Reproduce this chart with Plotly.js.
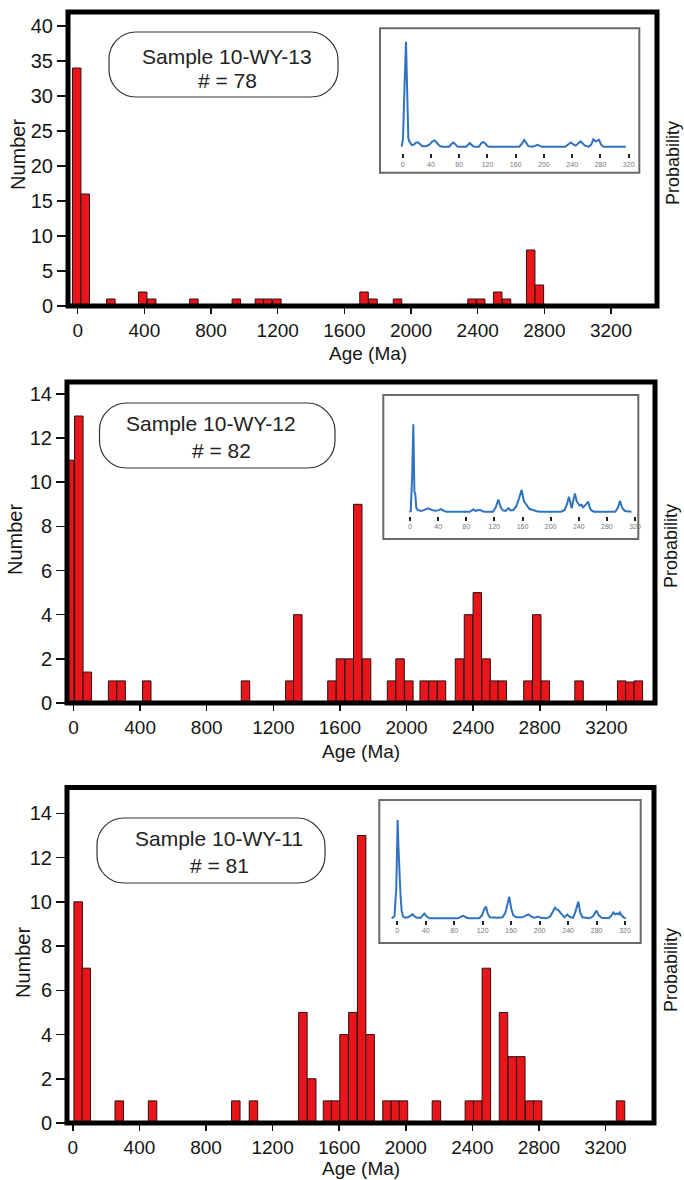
<!DOCTYPE html>
<html>
<head>
<meta charset="utf-8">
<script src="https://cdn.plot.ly/plotly-3.0.1.min.js"></script>
<style>html,body{margin:0;padding:0;background:#fff;}#chart{width:684px;height:1180px;}</style>
</head>
<body>
<div id="chart"></div>
<script>
// ---------------- DATA ----------------
// Panel 1: Sample 10-WY-13 (age bin centres in Ma, counts)
const ages13 = [-6, 45, 199, 390, 444, 697, 952, 1090, 1140, 1195, 1718, 1772, 1919, 2366, 2418, 2520, 2573, 2718, 2770];
const counts13 = [34, 16, 1, 2, 1, 1, 1, 1, 1, 1, 2, 1, 1, 1, 1, 2, 1, 8, 3];
// Panel 2: Sample 10-WY-12
const ages12 = [-23, 32, 83, 235, 286, 440, 1033, 1299, 1347, 1552, 1603, 1656, 1707, 1760, 1910, 1961, 2014, 2106, 2159, 2210, 2318, 2372, 2425, 2478, 2526, 2575, 2729, 2782, 2833, 3036, 3292, 3341, 3392];
const counts12 = [11, 13, 1.4, 1, 1, 1, 1, 1, 4, 1, 2, 2, 9, 2, 1, 2, 1, 1, 1, 1, 2, 4, 5, 2, 1, 1, 1, 4, 1, 1, 1, 0.95, 1];
// Panel 3: Sample 10-WY-11
const ages11 = [32, 81, 279, 479, 979, 1085, 1382, 1435, 1530, 1578, 1629, 1682, 1735, 1786, 1887, 1938, 1986, 2184, 2382, 2433, 2484, 2587, 2640, 2691, 2744, 2792, 3290];
const counts11 = [10, 7, 1, 1, 1, 1, 5, 2, 1, 1, 4, 5, 13, 4, 1, 1, 1, 1, 1, 1, 7, 5, 3, 3, 1, 1, 1];

const ageTicks = [0, 400, 800, 1200, 1600, 2000, 2400, 2800, 3200];
const ageTickText = ["0", "400", "800", "1200", "1600", "2000", "2400", "2800", "3200"];
const numTicks13 = [0, 5, 10, 15, 20, 25, 30, 35, 40];
const numTicks12 = [0, 2, 4, 6, 8, 10, 12, 14];
const numTicks11 = [0, 2, 4, 6, 8, 10, 12, 14];

// Inset probability curves (x in inset units, y in % of main peak)
const probX13 = [-1.4, 0.5, 2.5, 4.7, 6.5, 8, 9.5, 11, 13, 16, 19, 22, 25, 28, 33, 38, 42, 45, 48, 52, 56, 66, 69, 72, 75, 78, 90, 93, 95, 98, 101, 108, 111, 114, 117, 120, 123, 165, 169, 172, 175, 178, 184, 188, 191, 194, 197, 230, 235, 238, 242, 245, 249, 252, 255, 258, 263, 267, 270, 273, 275, 278, 281, 284, 316];
const probY13 = [0, 8, 55, 100, 50, 8, 5, 3, 1.5, 2, 4, 4, 2, 0.5, 0.5, 2, 5, 6, 4, 1, 0, 0, 2.5, 4, 2, 0, 0, 2.5, 3.5, 1.5, 0, 0, 3, 4.5, 3, 0.5, 0, 0, 3, 6.5, 3, 0.5, 0, 1, 1.8, 0.8, 0, 0, 3, 4, 2, 1, 3.5, 5, 3, 1, 0, 2, 7, 5, 5.5, 6.5, 2, 0, 0];

const probX12 = [-1, 1, 3, 4.7, 5.5, 6.2, 7.5, 9, 11, 14, 17, 21, 26, 31, 36, 40, 44, 48, 52, 85, 88, 90, 93, 96, 99.5, 103, 106, 118, 122, 125.6, 129, 132, 136, 140, 143, 147, 151, 155, 158.8, 162, 166, 170, 175, 180, 185, 215, 220, 223, 226, 228, 230, 232, 234.6, 237, 239, 241, 244, 246, 248.8, 251, 253.5, 256, 258, 262, 292, 296, 298.6, 302, 305.7, 315];
const probY12 = [0, 0.5, 40, 100, 60, 23, 20, 4, 2, 1, 1, 2.5, 3.8, 2, 1, 1.5, 3, 1, 0, 0, 1.5, 2.7, 1, 1.5, 2.3, 0.5, 0, 0, 5, 14, 5, 1.5, 1, 4, 1.5, 2, 6, 15, 25, 12, 7, 3, 2, 0.5, 0, 0, 2, 8, 17, 10, 4, 12, 21, 12, 9, 7, 8, 5, 7, 9, 11.5, 4, 1.5, 0, 0, 5, 12.6, 4, 0.8, 0];

const probX11 = [-8, -4, -1.5, 0.5, 1.5, 2, 3.5, 4.5, 6, 8, 11, 15, 19, 21.5, 24, 28, 33, 36, 38, 41, 45, 85, 89, 92.7, 96, 100, 115, 119, 122, 124.6, 127, 130, 140, 148, 152, 155, 157.4, 160, 163, 167, 175, 180, 184, 188, 192, 195, 198, 201, 210, 215, 218, 221.6, 224, 226, 230, 235, 239, 242, 247, 250, 254.4, 257, 260, 270, 275, 278, 280, 283, 287, 297, 300, 303.6, 306, 308, 311, 312.8, 315, 318, 321];
const probY11 = [0, 2, 30, 100, 75, 58, 40, 24, 8, 2, 0.5, 1, 3, 4, 2, 0.5, 0.5, 3, 4.7, 2, 0, 0, 1.5, 2.7, 1, 0, 0, 3, 9, 12, 5, 1, 0.5, 1, 6, 15, 22, 10, 3, 1, 1, 2.5, 4, 2, 0.5, 1, 1.7, 0.5, 0, 2, 6, 10.8, 9, 8.5, 5, 1, 4, 1.5, 0.5, 6, 17, 6, 1, 0, 2, 6, 7.8, 3, 0.5, 0, 2, 6, 4, 5, 4, 6, 3, 1, 0];

const insetTicks = [0, 40, 80, 120, 160, 200, 240, 280, 320];
const insetTickText = ["0", "40", "80", "120", "160", "200", "240", "280", "320"];

const sampleNames = ["Sample 10-WY-13", "Sample 10-WY-12", "Sample 10-WY-11"];
const sampleCounts = ["# = 78", "# = 82", "# = 81"];

// ---------------- LAYOUT GEOMETRY ----------------
const W = 684, H = 1180;
const X = px => px / W;
const Y = py => 1 - py / H;
const FONT = "Liberation Sans, Arial, Helvetica, sans-serif";
const RED = "#e8161b";
const BLUE = "#2f72c2";

const frames = [
  {l: 68, r: 657, t: 12, b: 306, xr: [-58.2, 3475.8], yr: [0, 42]},
  {l: 67, r: 655, t: 382, b: 703, xr: [-39, 3492], yr: [0, 14.54]},
  {l: 67, r: 654, t: 787.5, b: 1123, xr: [-35, 3491], yr: [0, 15.17]}
];
const insets = [
  {l: 380, r: 639.3, t: 28.3, b: 172.7, db: 153.3, xr: [-32.1, 335], yr: [-6.29, 112.75]},
  {l: 383.3, r: 638.3, t: 395, b: 539, db: 516, xr: [-38, 324.7], yr: [-4.9, 133.5]},
  {l: 379.3, r: 640.7, t: 800, b: 943, db: 920, xr: [-25.3, 342], yr: [-1.73, 120.4]}
];
const boxes = [
  {l: 109, r: 338, t: 32, b: 97, cx1: 227, y1: 57, cx2: 227, y2: 80},
  {l: 99.5, r: 335, t: 403, b: 468, cx1: 211, y1: 423, cx2: 221, y2: 450},
  {l: 97, r: 325, t: 818, b: 883, cx1: 219, y1: 839, cx2: 219, y2: 865}
];
const titlesPos = [
  {numX: 18, numY: 155, ageX: 368, ageY: 353, probX: 673, probY: 163},
  {numX: 15, numY: 540, ageX: 361, ageY: 752, probX: 671, probY: 546},
  {numX: 23, numY: 963, ageX: 361, ageY: 1168, probX: 671, probY: 970}
];

const agesAll = [ages13, ages12, ages11];
const countsAll = [counts13, counts12, counts11];
const numTicksAll = [numTicks13, numTicks12, numTicks11];
const probXAll = [probX13, probX12, probX11];
const probYAll = [probY13, probY12, probY11];

const data = [];
const layout = {
  width: W, height: H, autosize: false,
  margin: {l: 0, r: 0, t: 0, b: 0},
  paper_bgcolor: "#fff", plot_bgcolor: "rgba(0,0,0,0)",
  showlegend: false,
  font: {family: FONT, color: "#111"},
  shapes: [], annotations: []
};

// rounded rectangle with cubic corners (pixel radius r)
function roundRectPath(b, r) {
  const rx = r / W, ry = r / H, c = 0.45;
  const l = X(b.l), ri = X(b.r), t = Y(b.t), bo = Y(b.b);
  return `M ${l + rx} ${t} L ${ri - rx} ${t} ` +
         `C ${ri - rx * c} ${t} ${ri} ${t - ry * (1 - c)} ${ri} ${t - ry} ` +
         `L ${ri} ${bo + ry} ` +
         `C ${ri} ${bo + ry * c} ${ri - rx * c} ${bo} ${ri - rx} ${bo} ` +
         `L ${l + rx} ${bo} ` +
         `C ${l + rx * c} ${bo} ${l} ${bo + ry * c} ${l} ${bo + ry} ` +
         `L ${l} ${t - ry} ` +
         `C ${l} ${t - ry * c} ${l + rx * c} ${t} ${l + rx} ${t} Z`;
}

for (let i = 0; i < 3; i++) {
  const f = frames[i];
  const xa = "xaxis" + (i === 0 ? "" : (i + 1));
  const ya = "yaxis" + (i === 0 ? "" : (i + 1));
  const xs = "x" + (i === 0 ? "" : (i + 1));
  const ys = "y" + (i === 0 ? "" : (i + 1));
  data.push({
    type: "bar", x: agesAll[i], y: countsAll[i], width: 51,
    xaxis: xs, yaxis: ys,
    marker: {color: RED, line: {color: "#2a1010", width: 1}},
    hoverinfo: "skip"
  });
  layout[xa] = {
    domain: [X(f.l), X(f.r)], range: f.xr, anchor: ys,
    tickvals: ageTicks, ticktext: ageTickText,
    ticks: "outside", ticklen: 7, tickwidth: 1.5, tickcolor: "#111",
    showgrid: false, zeroline: false, showline: false,
    tickfont: {size: 19, family: FONT, color: "#151515"}, fixedrange: true
  };
  layout[ya] = {
    domain: [Y(f.b), Y(f.t)], range: f.yr, anchor: xs,
    tickvals: numTicksAll[i],
    ticks: "outside", ticklen: 10, tickwidth: 1.5, tickcolor: "#111",
    showgrid: false, zeroline: false, showline: false,
    tickfont: {size: 20, family: FONT, color: "#151515"}, fixedrange: true
  };
  layout.shapes.push({
    type: "rect", xref: "paper", yref: "paper",
    x0: X(f.l), x1: X(f.r), y0: Y(f.b), y1: Y(f.t),
    line: {color: "#000", width: 5}, layer: "above"
  });

  const s = insets[i];
  const k = i + 4;
  data.push({
    type: "scatter", mode: "lines", x: probXAll[i], y: probYAll[i],
    xaxis: "x" + k, yaxis: "y" + k,
    line: {color: BLUE, width: 2}, hoverinfo: "skip"
  });
  layout["xaxis" + k] = {
    domain: [X(s.l), X(s.r)], range: s.xr, anchor: "y" + k,
    tickvals: insetTicks, ticktext: insetTickText,
    ticks: "outside", ticklen: 4, tickwidth: 2, tickcolor: "#222",
    showgrid: false, zeroline: false, showline: false,
    tickfont: {size: 7, family: FONT, color: "#777"}, fixedrange: true
  };
  layout["yaxis" + k] = {
    domain: [Y(s.db), Y(s.t)], range: s.yr, anchor: "x" + k,
    showticklabels: false, ticks: "", showgrid: false, zeroline: false, showline: false,
    fixedrange: true
  };
  layout.shapes.push({
    type: "rect", xref: "paper", yref: "paper",
    x0: X(s.l), x1: X(s.r), y0: Y(s.b), y1: Y(s.t),
    line: {color: "#6a6a6a", width: 2}, layer: "above"
  });

  const b = boxes[i];
  layout.shapes.push({
    type: "path", xref: "paper", yref: "paper",
    path: roundRectPath(b, 27),
    line: {color: "#333", width: 1.2}, layer: "above"
  });
  layout.annotations.push({
    xref: "paper", yref: "paper", x: X(b.cx1), y: Y(b.y1),
    text: sampleNames[i], showarrow: false, xanchor: "center", yanchor: "middle",
    font: {size: 21, family: FONT, color: "#222"}
  });
  layout.annotations.push({
    xref: "paper", yref: "paper", x: X(b.cx2), y: Y(b.y2),
    text: sampleCounts[i], showarrow: false, xanchor: "center", yanchor: "middle",
    font: {size: 21, family: FONT, color: "#222"}
  });

  const tp = titlesPos[i];
  layout.annotations.push({
    xref: "paper", yref: "paper", x: X(tp.numX), y: Y(tp.numY),
    text: "Number", textangle: -90, showarrow: false, xanchor: "center", yanchor: "middle",
    font: {size: 20, family: FONT, color: "#151515"}
  });
  layout.annotations.push({
    xref: "paper", yref: "paper", x: X(tp.ageX), y: Y(tp.ageY),
    text: "Age (Ma)", showarrow: false, xanchor: "center", yanchor: "middle",
    font: {size: 19, family: FONT, color: "#151515"}
  });
  layout.annotations.push({
    xref: "paper", yref: "paper", x: X(tp.probX), y: Y(tp.probY),
    text: "Probability", textangle: -90, showarrow: false, xanchor: "center", yanchor: "middle",
    font: {size: 18, family: FONT, color: "#151515"}
  });
}

Plotly.newPlot("chart", data, layout, {displayModeBar: false, staticPlot: true});
</script>
</body>
</html>
